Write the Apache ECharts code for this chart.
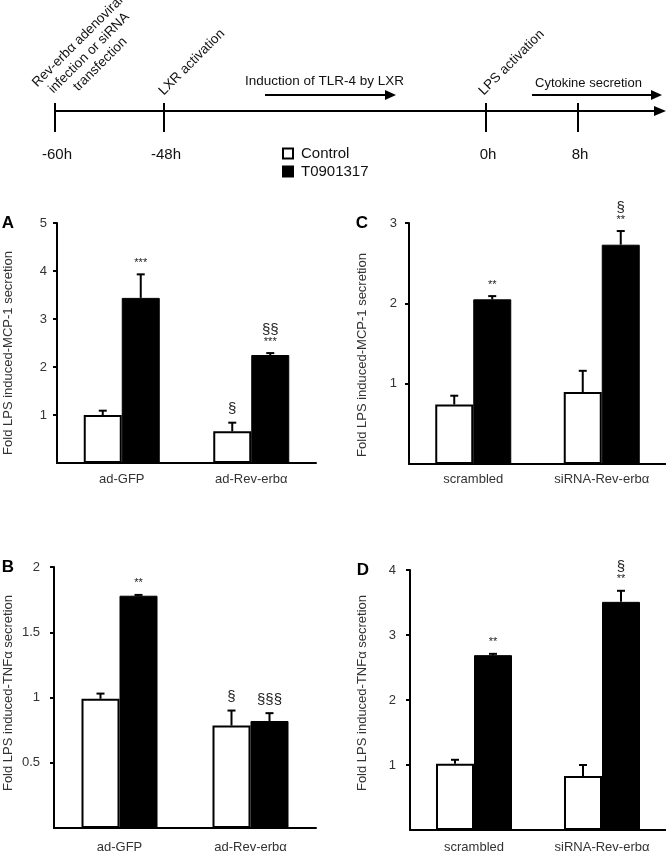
<!DOCTYPE html>
<html>
<head>
<meta charset="utf-8">
<script src="https://cdn.jsdelivr.net/npm/echarts@6/dist/echarts.min.js"></script>
<style>
  html, body { margin: 0; padding: 0; background: #fff; }
  #chart { width: 666px; height: 852px; }
</style>
</head>
<body>
<div id="chart"></div>
<script>
const FONT = '"Liberation Sans", Arial, Helvetica, sans-serif'

// timeline schematic
const timePoints = ['-60h', '-48h', '0h', '8h']
const phaseLabels = ['Induction of TLR-4 by LXR', 'Cytokine secretion']
const groups = ['Control', 'T0901317']

// panel A - MCP-1, adenovirus
const catsA = ['ad-GFP', 'ad-Rev-erbα']
const ctrlA = [1.0, 0.66]
const ctrlErrA = [0.09, 0.18]
const t09A = [3.44, 2.25]
const t09ErrA = [0.49, 0.04]
const ctrlStarsA = ['', '']
const ctrlSectA = ['', '§']
const t09StarsA = ['***', '***']
const t09SectA = ['', '§§']

// panel B - TNFa, adenovirus
const catsB = ['ad-GFP', 'ad-Rev-erbα']
const ctrlB = [0.99, 0.785]
const ctrlErrB = [0.04, 0.115]
const t09B = [1.78, 0.82]
const t09ErrB = [0.006, 0.06]
const ctrlStarsB = ['', '']
const ctrlSectB = ['', '§']
const t09StarsB = ['**', '']
const t09SectB = ['', '§§§']

// panel C - MCP-1, siRNA
const catsC = ['scrambled', 'siRNA-Rev-erbα']
const ctrlC = [0.74, 0.895]
const ctrlErrC = [0.11, 0.265]
const t09C = [2.05, 2.73]
const t09ErrC = [0.04, 0.17]
const ctrlStarsC = ['', '']
const ctrlSectC = ['', '']
const t09StarsC = ['**', '**']
const t09SectC = ['', '§']

// panel D - TNFa, siRNA
const catsD = ['scrambled', 'siRNA-Rev-erbα']
const ctrlD = [1.02, 0.83]
const ctrlErrD = [0.06, 0.17]
const t09D = [2.69, 3.51]
const t09ErrD = [0.02, 0.17]
const ctrlStarsD = ['', '']
const ctrlSectD = ['', '']
const t09StarsD = ['**', '**']
const t09SectD = ['', '§']

const BAR_W = 38

const panels = [
  { letter: 'A', cats: catsA, ctrl: ctrlA, ctrlErr: ctrlErrA, t09: t09A, t09Err: t09ErrA,
    marks: [[ctrlStarsA, ctrlSectA], [t09StarsA, t09SectA]],
    grid: { left: 57, top: 223, width: 259, height: 240 }, max: 5, interval: 1,
    title: 'Fold LPS induced-MCP-1 secretion', titlePos: [8, 353], letterPos: [8, 223],
    labelMargin: 10, catMargin: 10 },
  { letter: 'B', cats: catsB, ctrl: ctrlB, ctrlErr: ctrlErrB, t09: t09B, t09Err: t09ErrB,
    marks: [[ctrlStarsB, ctrlSectB], [t09StarsB, t09SectB]],
    grid: { left: 54, top: 567, width: 262, height: 261 }, max: 2, interval: 0.5,
    title: 'Fold LPS induced-TNFα secretion', titlePos: [8, 693], letterPos: [8, 567],
    labelMargin: 14, catMargin: 13 },
  { letter: 'C', cats: catsC, ctrl: ctrlC, ctrlErr: ctrlErrC, t09: t09C, t09Err: t09ErrC,
    marks: [[ctrlStarsC, ctrlSectC], [t09StarsC, t09SectC]],
    grid: { left: 409, top: 223, width: 257, height: 241 }, max: 3, interval: 1,
    title: 'Fold LPS induced-MCP-1 secretion', titlePos: [362, 355], letterPos: [362, 223],
    labelMargin: 12, catMargin: 9 },
  { letter: 'D', cats: catsD, ctrl: ctrlD, ctrlErr: ctrlErrD, t09: t09D, t09Err: t09ErrD,
    marks: [[ctrlStarsD, ctrlSectD], [t09StarsD, t09SectD]],
    grid: { left: 410, top: 570, width: 256, height: 260 }, max: 4, interval: 1,
    title: 'Fold LPS induced-TNFα secretion', titlePos: [362, 693], letterPos: [363, 570],
    labelMargin: 14, catMargin: 11 },
]

// error bar + significance marks, drawn on top of each bar
const errorSeries = (idx, values, errs, stars, sects, side) => ({
  type: 'custom',
  xAxisIndex: idx,
  yAxisIndex: idx,
  silent: true,
  z: 5,
  encode: { x: 0, y: [1, 2] },
  data: values.map((v, i) => [i, v, v + errs[i]]),
  renderItem: (params, api) => {
    const i = params.dataIndex
    const base = api.coord([api.value(0), api.value(1)])
    const top = api.coord([api.value(0), api.value(2)])
    const x = base[0] + side * BAR_W / 2
    const children = [
      { type: 'line', shape: { x1: x, y1: base[1], x2: x, y2: top[1] }, style: { stroke: '#000', lineWidth: 2 } },
      { type: 'line', shape: { x1: x - 4, y1: top[1], x2: x + 4, y2: top[1] }, style: { stroke: '#000', lineWidth: 2 } },
    ]
    let y = top[1] - 6
    if (stars[i]) {
      children.push({ type: 'text', x: x, y: y, style: { text: stars[i], fontSize: 11, fontFamily: FONT, fill: '#222', align: 'center', verticalAlign: 'bottom' } })
      y -= 10
    }
    if (sects[i]) {
      children.push({ type: 'text', x: x, y: y, style: { text: sects[i], fontSize: 15, fontFamily: FONT, fill: '#222', align: 'center', verticalAlign: 'bottom' } })
    }
    return { type: 'group', children }
  },
})

const grids = []
const xAxes = []
const yAxes = []
const series = []
const graphics = []

panels.forEach((p, idx) => {
  grids.push({ ...p.grid, outerBoundsMode: 'none', containLabel: false })
  xAxes.push({
    type: 'category',
    gridIndex: idx,
    data: p.cats,
    axisLine: { lineStyle: { color: '#000', width: 2 } },
    axisTick: { show: false },
    axisLabel: { color: '#333', fontSize: 13, fontFamily: FONT, margin: p.catMargin },
  })
  yAxes.push({
    type: 'value',
    gridIndex: idx,
    min: 0,
    max: p.max,
    interval: p.interval,
    axisLine: { show: true, lineStyle: { color: '#000', width: 2 } },
    axisTick: { show: true, length: 4, lineStyle: { color: '#000', width: 2 } },
    splitLine: { show: false },
    axisLabel: { color: '#333', fontSize: 13, fontFamily: FONT, margin: p.labelMargin, showMinLabel: false },
  })
  series.push({
    name: groups[0],
    type: 'bar',
    xAxisIndex: idx,
    yAxisIndex: idx,
    data: p.ctrl,
    barWidth: BAR_W,
    barGap: '0%',
    itemStyle: { color: '#fff', borderColor: '#000', borderWidth: 2 },
    silent: true,
  })
  series.push({
    name: groups[1],
    type: 'bar',
    xAxisIndex: idx,
    yAxisIndex: idx,
    data: p.t09,
    barWidth: BAR_W,
    barGap: '0%',
    itemStyle: { color: '#000', borderColor: '#000', borderWidth: 1 },
    silent: true,
  })
  series.push(errorSeries(idx, p.ctrl, p.ctrlErr, p.marks[0][0], p.marks[0][1], -1))
  series.push(errorSeries(idx, p.t09, p.t09Err, p.marks[1][0], p.marks[1][1], 1))

  // panel letter and y-axis title
  graphics.push(
    { type: 'text', x: p.letterPos[0], y: p.letterPos[1],
      style: { text: p.letter, fontSize: 17, fontWeight: 'bold', fontFamily: FONT, fill: '#000', align: 'center', verticalAlign: 'middle' } },
    { type: 'text', x: p.titlePos[0], y: p.titlePos[1], rotation: Math.PI / 2,
      style: { text: p.title, fontSize: 13, fontFamily: FONT, fill: '#333', align: 'center', verticalAlign: 'middle' } },
  )
})

// timeline schematic on top
const tickX = [55, 164, 486, 578]
const lineY = 111
graphics.push(
  { type: 'line', shape: { x1: 55, y1: lineY, x2: 658, y2: lineY }, style: { stroke: '#000', lineWidth: 2 } },
  { type: 'polygon', shape: { points: [[654, lineY - 5], [666, lineY], [654, lineY + 5]] }, style: { fill: '#000' } },
  { type: 'line', shape: { x1: 265, y1: 95, x2: 388, y2: 95 }, style: { stroke: '#000', lineWidth: 2 } },
  { type: 'polygon', shape: { points: [[385, 90], [396, 95], [385, 100]] }, style: { fill: '#000' } },
  { type: 'line', shape: { x1: 532, y1: 95, x2: 654, y2: 95 }, style: { stroke: '#000', lineWidth: 2 } },
  { type: 'polygon', shape: { points: [[651, 90], [662, 95], [651, 100]] }, style: { fill: '#000' } },
  { type: 'text', x: 245, y: 81, style: { text: phaseLabels[0], fontSize: 13.5, fontFamily: FONT, fill: '#111', align: 'left', verticalAlign: 'middle' } },
  { type: 'text', x: 535, y: 83, style: { text: phaseLabels[1], fontSize: 13, fontFamily: FONT, fill: '#111', align: 'left', verticalAlign: 'middle' } },
  { type: 'text', x: 89, y: 53, rotation: Math.PI / 4,
    style: { text: 'Rev-erbα adenoviral\ninfection or siRNA\ntransfection', fontSize: 13.5, lineHeight: 16, fontFamily: FONT, fill: '#111', align: 'center', verticalAlign: 'middle' } },
  { type: 'text', x: 166, y: 98, rotation: Math.PI / 4,
    style: { text: 'LXR activation', fontSize: 13.5, fontFamily: FONT, fill: '#111', align: 'left', verticalAlign: 'bottom' } },
  { type: 'text', x: 486, y: 98, rotation: Math.PI / 4,
    style: { text: 'LPS activation', fontSize: 13.5, fontFamily: FONT, fill: '#111', align: 'left', verticalAlign: 'bottom' } },
)
tickX.forEach((x, i) => {
  graphics.push(
    { type: 'line', shape: { x1: x, y1: 103, x2: x, y2: 132 }, style: { stroke: '#000', lineWidth: 2 } },
    { type: 'text', x: x + 2, y: 155, style: { text: timePoints[i], fontSize: 15, fontFamily: FONT, fill: '#111', align: 'center', verticalAlign: 'middle' } },
  )
})

const chart = echarts.init(document.getElementById('chart'), null, { renderer: 'canvas' })
chart.setOption({
  backgroundColor: '#fff',
  animation: false,
  textStyle: { fontFamily: FONT },
  legend: {
    data: groups.map(name => ({ name, icon: 'rect' })),
    orient: 'vertical',
    left: 282,
    top: 146,
    padding: 0,
    itemWidth: 10,
    itemHeight: 10,
    itemGap: 3,
    selectedMode: false,
    textStyle: { fontSize: 15, color: '#111', fontFamily: FONT, padding: [0, 0, 0, 3] },
  },
  grid: grids,
  xAxis: xAxes,
  yAxis: yAxes,
  series: series,
  graphic: graphics,
})
</script>
</body>
</html>
